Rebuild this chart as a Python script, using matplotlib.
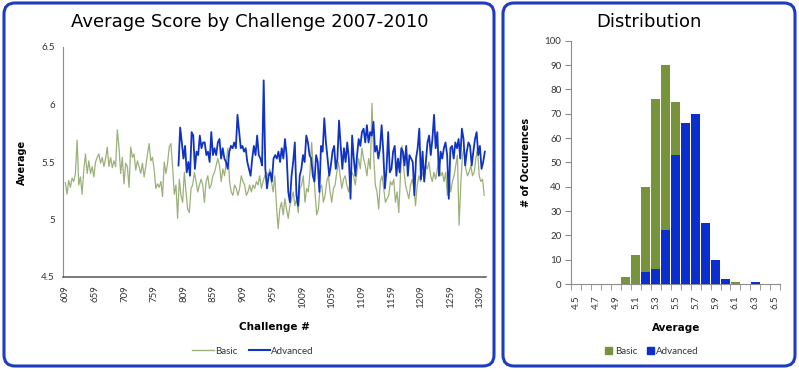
import numpy as np
import matplotlib
matplotlib.use("Agg")
import matplotlib.pyplot as plt
from matplotlib.patches import FancyBboxPatch
from matplotlib.lines import Line2D
from matplotlib.patches import Patch
from matplotlib.transforms import IdentityTransform

# ---------------- data ----------------
basic_first, basic_last = 609, 1316
adv_first, adv_last = 800, 1317

basic_scores = [
    5.32, 5.22, 5.34, 5.28, 5.36, 5.33, 5.40, 5.69, 5.30, 5.37, 5.22, 5.43, 5.57, 5.40, 5.51, 5.40,
    5.46, 5.37, 5.50, 5.54, 5.57, 5.49, 5.54, 5.46, 5.53, 5.63, 5.46, 5.54, 5.45, 5.51, 5.46, 5.78,
    5.63, 5.40, 5.54, 5.31, 5.49, 5.46, 5.28, 5.63, 5.54, 5.57, 5.43, 5.51, 5.46, 5.40, 5.49, 5.37,
    5.46, 5.57, 5.66, 5.51, 5.54, 5.43, 5.27, 5.31, 5.28, 5.33, 5.20, 5.50, 5.40, 5.49, 5.63, 5.66,
    5.46, 5.22,
    5.30, 5.01, 5.35, 5.21, 5.15, 5.41, 5.24, 5.09, 5.06, 5.27, 5.30, 5.41, 5.33, 5.24, 5.30, 5.35,
    5.30, 5.15, 5.33, 5.38, 5.27, 5.30, 5.38, 5.41, 5.47, 5.53, 5.47, 5.33, 5.44, 5.38, 5.50, 5.62,
    5.33, 5.24, 5.21, 5.30, 5.27, 5.21, 5.27, 5.38, 5.33, 5.30, 5.21, 5.24, 5.30, 5.24, 5.30, 5.27,
    5.33, 5.30, 5.38, 5.27, 5.33, 5.38, 5.41, 5.38, 5.44,
    5.33, 5.24, 5.38, 5.12, 4.92, 5.09, 5.15, 5.04, 5.18, 5.09, 5.01, 5.12, 5.18, 5.24, 5.12, 5.18,
    5.06, 5.27, 5.30, 5.38, 5.15, 5.27, 5.24, 5.41, 5.67, 5.44, 5.24, 5.04, 5.09, 5.27, 5.30, 5.15,
    5.21, 5.33, 5.38, 5.24, 5.15, 5.27, 5.30, 5.41, 5.50, 5.38, 5.27, 5.35, 5.38, 5.30, 5.24, 5.33,
    5.41, 5.38, 5.30, 5.41, 5.53, 5.44, 5.62, 5.53, 5.47, 5.38, 5.53, 5.44, 6.01, 5.56, 5.30, 5.24,
    5.09, 5.33, 5.38, 5.27, 5.15, 5.18, 5.21, 5.33, 5.30, 5.35, 5.15, 5.24, 5.06, 5.38, 5.64, 5.44,
    5.30, 5.24, 5.18, 5.30, 5.35, 5.27, 5.12, 5.30, 5.38, 5.33, 5.41, 5.35, 5.47, 5.44, 5.50, 5.38,
    5.33, 5.41, 5.35, 5.44, 5.50, 5.38, 5.41, 5.33, 5.41, 5.21, 5.38, 5.24, 5.33, 5.38, 5.47, 5.56,
    4.95, 5.30, 5.56, 5.62, 5.44, 5.38, 5.41, 5.47, 5.38, 5.41, 5.53, 5.62, 5.38, 5.33, 5.35, 5.21,
]

advanced_scores = [
    5.47, 5.80, 5.67, 5.53, 5.64, 5.41, 5.50, 5.38, 5.76, 5.73, 5.44, 5.59, 5.56, 5.73, 5.62, 5.67,
    5.67, 5.56, 5.59, 5.50, 5.76, 5.56, 5.62, 5.56, 5.67, 5.70, 5.53, 5.62, 5.53, 5.50, 5.44, 5.59,
    5.64, 5.62, 5.67, 5.62, 5.91, 5.76, 5.62, 5.64, 5.59, 5.62, 5.50, 5.44, 5.38, 5.53, 5.64, 5.56,
    5.73, 5.56, 5.53, 5.47, 6.21, 5.44, 5.27, 5.38, 5.41, 5.33, 5.53, 5.56,
    5.53, 5.59, 5.50, 5.62, 5.53, 5.70, 5.56, 5.24, 5.15, 5.38, 5.50, 5.67, 5.21, 5.12, 5.38, 5.44,
    5.56, 5.50, 5.73, 5.67, 5.56, 5.53, 5.38, 5.33, 5.56, 5.50, 5.24, 5.64, 5.59, 5.88, 5.67, 5.53,
    5.38, 5.47, 5.59, 5.64, 5.44, 5.53, 5.86, 5.64, 5.44, 5.62, 5.50, 5.67, 5.53, 5.18, 5.73, 5.53,
    5.38, 5.56, 5.70, 5.64, 5.76, 5.79, 5.67, 5.82, 5.67, 5.76, 5.73, 5.85, 5.59, 5.64, 5.53, 5.62,
    5.82, 5.59, 5.27, 5.44, 5.76, 5.41, 5.44, 5.59, 5.64, 5.38, 5.53, 5.41, 5.62, 5.59, 5.47, 5.64,
    5.38, 5.56, 5.53, 5.50, 5.21, 5.53, 5.62, 5.79, 5.35, 5.59, 5.33, 5.50, 5.67, 5.73, 5.56, 5.70,
    5.91, 5.62, 5.76, 5.38, 5.59, 5.53, 5.62, 5.67, 5.56, 5.18, 5.62, 5.64, 5.53, 5.67, 5.62, 5.70,
    5.53, 5.79, 5.70, 5.47, 5.59, 5.67, 5.64, 5.47, 5.59, 5.70, 5.76, 5.56, 5.64, 5.44, 5.50, 5.59,
]

challenge_ticks = [609, 659, 709, 759, 809, 859, 909, 959, 1009, 1059, 1109, 1159, 1209, 1259, 1309]

dist_bins = ["4.5", "4.6", "4.7", "4.8", "4.9", "5", "5.1", "5.2", "5.3", "5.4", "5.5",
             "5.6", "5.7", "5.8", "5.9", "6", "6.1", "6.2", "6.3", "6.4", "6.5"]
dist_labels = ["4.5", "", "4.7", "", "4.9", "", "5.1", "", "5.3", "", "5.5",
               "", "5.7", "", "5.9", "", "6.1", "", "6.3", "", "6.5"]
basic_counts = [0, 0, 0, 0, 0, 3, 12, 40, 76, 90, 75, 30, 12, 5, 2, 1, 1, 0, 0, 0, 0]
advanced_counts = [0, 0, 0, 0, 0, 0, 0, 5, 6, 22, 53, 66, 70, 25, 10, 2, 0, 0, 1, 0, 0]

# ---------------- style ----------------
GREEN_LINE = "#9CB07A"
BLUE_LINE = "#1133C4"
GREEN_BAR = "#77933C"
BLUE_BAR = "#0A2FCC"
BORDER = "#1E3CC0"
TEXT = "#333333"
TICKFONT = ["Lato", "DejaVu Sans"]
TITLEFONT = ["DejaVu Sans"]

W, H = 799, 372
fig = plt.figure(figsize=(W / 100, H / 100), dpi=100)
fig.patch.set_facecolor("white")


def px(x0, y0, x1, y1):
    """pixel box (top-left origin) -> figure fraction rect"""
    return [x0 / W, 1 - y1 / H, (x1 - x0) / W, (y1 - y0) / H]


# panel borders
for (x0, y0, x1, y1) in [(4, 3, 494, 366), (503, 3, 795, 366)]:
    p = FancyBboxPatch((x0, H - y1), x1 - x0, y1 - y0,
                       boxstyle="round,pad=0,rounding_size=11",
                       transform=IdentityTransform(), facecolor="none",
                       edgecolor=BORDER, linewidth=2.2, zorder=10)
    fig.add_artist(p)

# ---------------- left: line chart ----------------
ax = fig.add_axes(px(63, 47, 486, 277))
xb = np.linspace(basic_first, basic_last, len(basic_scores))
xa = np.linspace(adv_first, adv_last, len(advanced_scores))
ax.plot(xb, basic_scores, color=GREEN_LINE, lw=0.9, zorder=2)
ax.plot(xa, advanced_scores, color=BLUE_LINE, lw=1.3, zorder=3)
ax.set_xlim(605, 1319)
ax.set_ylim(4.5, 6.5)
ax.set_yticks([4.5, 5, 5.5, 6, 6.5])
ax.set_yticklabels(["4.5", "5", "5.5", "6", "6.5"])
ax.set_xticks(challenge_ticks)
ax.set_xticklabels([str(t) for t in challenge_ticks], rotation=90)
for s in ["top", "right"]:
    ax.spines[s].set_visible(False)
ax.spines["left"].set_color("#8c8c8c")
ax.spines["bottom"].set_color("#555555")
ax.spines["bottom"].set_linewidth(1.1)
ax.tick_params(axis="both", length=0, labelsize=7, colors=TEXT, pad=6)
for lab in ax.get_xticklabels() + ax.get_yticklabels():
    lab.set_fontfamily(TICKFONT)
ax.set_ylabel("Average", fontsize=7, fontweight="bold", family=TITLEFONT, labelpad=10)
ax.set_xlabel("Challenge #", fontsize=7.5, fontweight="bold", family=TITLEFONT, labelpad=10)
fig.text(250 / W, 1 - 22 / H, "Average Score by Challenge 2007-2010", ha="center", va="center",
         fontsize=13, family=TITLEFONT)
leg = ax.legend(handles=[Line2D([], [], color=GREEN_LINE, lw=1.0, label="Basic"),
                         Line2D([], [], color=BLUE_LINE, lw=1.5, label="Advanced")],
                loc="center", bbox_to_anchor=(253 / W, 1 - 351 / H), bbox_transform=fig.transFigure,
                ncol=2, frameon=False, fontsize=7, handlelength=2.2, handletextpad=0.1,
                columnspacing=1.2)
for t in leg.get_texts():
    t.set_color(TEXT)
    t.set_fontfamily(TICKFONT)

# ---------------- right: distribution ----------------
ax2 = fig.add_axes(px(571, 40.7, 780.3, 284))
pos = np.arange(len(dist_bins))
ax2.bar(pos, basic_counts, width=0.88, color=GREEN_BAR, zorder=2)
ax2.bar(pos, advanced_counts, width=0.88, color=BLUE_BAR, zorder=3)
ax2.set_xlim(-0.5, len(dist_bins) - 0.5)
ax2.set_ylim(0, 100)
ax2.set_yticks(range(0, 101, 10))
ax2.set_xticks(pos)
ax2.set_xticklabels(dist_labels, rotation=90)
ax2.set_xticks(np.arange(-0.5, len(dist_bins), 1.0), minor=True)
for s in ["top", "right"]:
    ax2.spines[s].set_visible(False)
ax2.spines["left"].set_color("#8c8c8c")
ax2.spines["bottom"].set_color("#8c8c8c")
ax2.tick_params(axis="x", which="major", length=0, labelsize=7, colors=TEXT, pad=8)
ax2.tick_params(axis="x", which="minor", length=4, color="#8c8c8c", direction="out")
ax2.tick_params(axis="y", length=4, color="#8c8c8c", labelsize=7, labelcolor=TEXT, pad=3)
for lab in ax2.get_xticklabels() + ax2.get_yticklabels():
    lab.set_fontfamily(TICKFONT)
ax2.set_ylabel("# of Occurences", fontsize=7, fontweight="bold", family=TITLEFONT, labelpad=10)
ax2.set_xlabel("Average", fontsize=7.5, fontweight="bold", family=TITLEFONT, labelpad=10)
fig.text(649 / W, 1 - 22 / H, "Distribution", ha="center", va="center",
         fontsize=13, family=TITLEFONT)
leg2 = ax2.legend(handles=[Patch(color=GREEN_BAR, label="Basic"),
                           Patch(color=BLUE_BAR, label="Advanced")],
                  loc="center", bbox_to_anchor=(652 / W, 1 - 351 / H), bbox_transform=fig.transFigure,
                  ncol=2, frameon=False, fontsize=7, handlelength=0.7, handleheight=0.7,
                  handletextpad=0.3, columnspacing=1.0)
for t in leg2.get_texts():
    t.set_color(TEXT)
    t.set_fontfamily(TICKFONT)

fig.savefig("out.png", dpi=100, facecolor="white")
